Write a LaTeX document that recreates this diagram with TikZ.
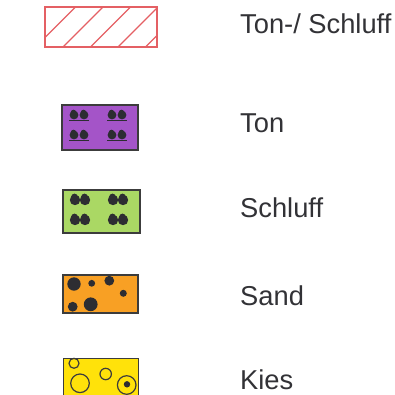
\documentclass[tikz,border=0pt]{standalone}
\usepackage{fontspec}
\setmainfont{Liberation Sans}
\definecolor{hatchred}{RGB}{228,96,100}
\definecolor{tonfill}{RGB}{164,84,200}
\definecolor{schfill}{RGB}{170,216,100}
\definecolor{sandfill}{RGB}{248,160,36}
\definecolor{kiesfill}{RGB}{255,226,10}
\definecolor{edge}{RGB}{60,60,60}
\definecolor{blob}{RGB}{45,45,50}
\definecolor{txt}{RGB}{50,50,54}
\begin{document}
\begin{tikzpicture}[x=1pt,y=-1pt,
  legbox/.style={draw=edge,line width=1.2pt},
  label/.style={anchor=base west,inner sep=0pt,text=txt,font=\fontsize{27.3}{30}\selectfont},
  dot/.style={fill=blob,draw=none}]
\useasboundingbox (0,0) rectangle (394,395);
% Ton-/Schluff hatched box
\begin{scope}
  \clip (45,7) rectangle (157,47);
  \foreach \b in {35.5,63,90.5,118,145.5}
    \draw[hatchred,line width=1.4pt] (\b,47) -- ++(40,-40);
\end{scope}
\draw[hatchred,line width=1.5pt] (45,7) rectangle (157,47);
% Ton box
\draw[legbox,fill=tonfill] (62,105) rectangle (138,150);
\foreach \cx/\cy in {79/115,117/115,79/135,117/135}{
  \fill[blob] (\cx-5,\cy) circle (4.4);
  \fill[blob] (\cx+5,\cy) circle (4.4);
  \fill[blob] (\cx-5.5,\cy-2.5) circle (2.8);
  \fill[blob] (\cx+4.5,\cy-2.5) circle (2.8);
  \draw[blob,line width=1pt] (\cx-10,\cy+5.5) -- (\cx+10,\cy+5.5);
}
% Schluff box
\draw[legbox,fill=schfill] (63,190) rectangle (140,233);
\foreach \cx/\cy in {80/200,118/200,80/220,118/220}{
  \fill[blob] (\cx-5,\cy) circle (5.2);
  \fill[blob] (\cx+5,\cy) circle (5.2);
  \fill[blob] (\cx-5.5,\cy-3) circle (3.4);
  \fill[blob] (\cx+4.5,\cy-3) circle (3.4);
}
% Sand box
\draw[legbox,fill=sandfill] (63,275) rectangle (138,313);
\foreach \cx/\cy/\r in {74/284/6.7,91.7/283.3/3.4,109.3/280.7/4.9,123.3/293.3/3.5,72.7/306.7/4.9,90.7/304.3/6.9}
  \fill[blob] (\cx,\cy) circle (\r);
% Kies box
\draw[legbox,fill=kiesfill] (63.3,358.3) rectangle (138.3,400);
\foreach \cx/\cy/\r in {74/363.3/5,80/383.3/9.3,105.7/374/5.7,126.7/385/9.3}
  \draw[edge,line width=1.2pt] (\cx,\cy) circle (\r);
\fill[blob] (127,384.3) circle (3.2);
% labels
\node[label] (l1) at (240,34) {Ton-/ Schluff};
\node[label] (l2) at (240,133) {Ton};
\node[label] (l3) at (240,217.5) {Schluff};
\node[label] (l4) at (240,305) {Sand};
\node[label] (l5) at (240,389) {Kies};
\end{tikzpicture}
\end{document}
